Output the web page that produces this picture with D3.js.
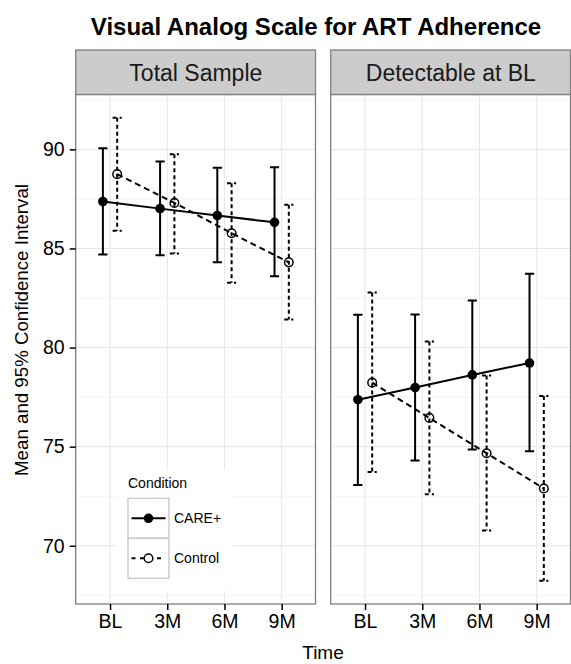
<!DOCTYPE html>
<html><head><meta charset="utf-8">
<script src="https://cdn.jsdelivr.net/npm/d3@7"></script>
<style>body{margin:0;background:#fff}svg{display:block;font-family:"Liberation Sans",Arial,Helvetica,sans-serif}</style>
</head><body><div id="chart"></div>
<script>
const times = ["BL","3M","6M","9M"];
const panels = ["Total Sample","Detectable at BL"];
const conditions = ["CARE+","Control"];
const yTicks = [70,75,80,85,90];

// Total Sample
const totalCareMean  = [87.37, 87.01, 86.66, 86.32];
const totalCareLow   = [84.69, 84.66, 84.30, 83.60];
const totalCareHigh  = [90.06, 89.39, 89.07, 89.10];
const totalCtrlMean  = [88.75, 87.30, 85.77, 84.30];
const totalCtrlLow   = [85.90, 84.74, 83.27, 81.41];
const totalCtrlHigh  = [91.60, 89.76, 88.29, 87.21];
// Detectable at BL
const detCareMean    = [77.37, 77.98, 78.62, 79.22];
const detCareLow     = [73.07, 74.30, 74.86, 74.77];
const detCareHigh    = [81.65, 81.67, 82.38, 83.72];
const detCtrlMean    = [78.23, 76.45, 74.67, 72.89];
const detCtrlLow     = [73.72, 72.60, 70.77, 68.23];
const detCtrlHigh    = [82.78, 80.31, 78.59, 77.55];

const panelData = [
  {name: panels[0], series: [
    {cond: conditions[0], mean: totalCareMean, low: totalCareLow, high: totalCareHigh},
    {cond: conditions[1], mean: totalCtrlMean, low: totalCtrlLow, high: totalCtrlHigh}]},
  {name: panels[1], series: [
    {cond: conditions[0], mean: detCareMean, low: detCareLow, high: detCareHigh},
    {cond: conditions[1], mean: detCtrlMean, low: detCtrlLow, high: detCtrlHigh}]}
];

const W = 571, H = 664;
const svg = d3.select("#chart").append("svg").attr("width", W).attr("height", H);
const FONT = '"Liberation Sans",Arial,Helvetica,sans-serif';

const panelX = [[75.7, 316], [330.7, 571]];
const stripTop = 50, panelTop = 94.5, panelBottom = 604;

const allVals = [].concat(totalCareLow,totalCareHigh,totalCtrlLow,totalCtrlHigh,detCareLow,detCareHigh,detCtrlLow,detCtrlHigh);
const lo = d3.min(allVals), hi = d3.max(allVals), pad = (hi - lo) * 0.05;
const y = d3.scaleLinear().domain([lo - pad, hi + pad]).range([panelBottom, panelTop]);
const minorTicks = d3.range(67.5, hi + pad, 2.5).filter(v => v % 5 !== 0 && v > lo - pad);

const styles = {
  "CARE+": {dash: null, ebDash: null, filled: true},
  "Control": {dash: "6,4", ebDash: "4,3", filled: false}
};

panelData.forEach((p, pi) => {
  const [x0, x1] = panelX[pi];
  const x = d3.scalePoint().domain(times).range([x0, x1]).padding(0.6);
  const dodge = x.step() * 0.125;
  const cap = x.step() * 0.08;
  const g = svg.append("g");
  g.append("rect").attr("x", x0).attr("y", panelTop).attr("width", x1 - x0).attr("height", panelBottom - panelTop).attr("fill", "#fff");
  g.selectAll(".minor").data(minorTicks).enter().append("line")
    .attr("x1", x0).attr("x2", x1).attr("y1", d => y(d)).attr("y2", d => y(d))
    .attr("stroke", "#f3f3f3").attr("stroke-width", 1);
  g.selectAll(".majy").data(yTicks).enter().append("line")
    .attr("x1", x0).attr("x2", x1).attr("y1", d => y(d)).attr("y2", d => y(d))
    .attr("stroke", "#e6e6e6").attr("stroke-width", 1);
  g.selectAll(".majx").data(times).enter().append("line")
    .attr("x1", d => x(d)).attr("x2", d => x(d)).attr("y1", panelTop).attr("y2", panelBottom)
    .attr("stroke", "#e6e6e6").attr("stroke-width", 1);

  if (pi === 0) {
    g.append("rect").attr("x", 117).attr("y", 470).attr("width", 116).attr("height", 121).attr("fill", "#fff");
  }

  p.series.forEach((s, si) => {
    const st = styles[s.cond];
    const off = si === 0 ? -dodge : dodge;
    const px = t => x(t) + off;
    times.forEach((t, i) => {
      const cx = px(t), yh = y(s.high[i]), yl = y(s.low[i]);
      const path = `M${cx-cap},${yh}L${cx+cap},${yh}M${cx},${yh}L${cx},${yl}M${cx-cap},${yl}L${cx+cap},${yl}`;
      g.append("path").attr("d", path).attr("fill", "none").attr("stroke", "#000")
        .attr("stroke-width", 2).attr("stroke-dasharray", st.ebDash);
    });
    const line = d3.line().x((d, i) => px(times[i])).y(d => y(d));
    g.append("path").datum(s.mean).attr("d", line).attr("fill", "none").attr("stroke", "#000")
      .attr("stroke-width", 2).attr("stroke-dasharray", st.dash);
  });
  p.series.forEach((s, si) => {
    const st = styles[s.cond];
    const off = si === 0 ? -dodge : dodge;
    g.selectAll(null).data(s.mean).enter().append("circle")
      .attr("cx", (d, i) => x(times[i]) + off).attr("cy", d => y(d))
      .attr("r", st.filled ? 4.8 : 4.3)
      .attr("fill", st.filled ? "#000" : "none")
      .attr("stroke", "#000").attr("stroke-width", st.filled ? 0 : 1.5);
  });

  g.append("rect").attr("x", x0).attr("y", panelTop).attr("width", x1 - x0 - 0.5).attr("height", panelBottom - panelTop)
    .attr("fill", "none").attr("stroke", "#7f7f7f").attr("stroke-width", 1.3);
  g.append("rect").attr("x", x0).attr("y", stripTop).attr("width", x1 - x0 - 0.5).attr("height", panelTop - stripTop)
    .attr("fill", "#cccccc").attr("stroke", "#7f7f7f").attr("stroke-width", 1.3);
  g.append("text").attr("x", (x0 + x1) / 2).attr("y", (stripTop + panelTop) / 2).attr("dy", "0.36em")
    .attr("text-anchor", "middle").attr("font-size", 23).attr("fill", "#1a1a1a").text(p.name);

  const xa = svg.append("g").attr("transform", `translate(0,${panelBottom})`)
    .call(d3.axisBottom(x).tickSize(6).tickSizeOuter(0).tickPadding(4));
  xa.select(".domain").remove();
  xa.selectAll(".tick line").attr("stroke", "#000").attr("stroke-width", 1.5);
  xa.selectAll(".tick text").attr("font-size", 19.5).attr("font-family", FONT).attr("fill", "#000");
});

const ya = svg.append("g").attr("transform", `translate(${panelX[0][0]},0)`)
  .call(d3.axisLeft(y).tickValues(yTicks).tickSize(6).tickPadding(5));
ya.select(".domain").remove();
ya.selectAll(".tick line").attr("stroke", "#000").attr("stroke-width", 1.5);
ya.selectAll(".tick text").attr("font-size", 19.5).attr("font-family", FONT).attr("fill", "#000");

svg.append("text").attr("x", 316).attr("y", 35).attr("text-anchor", "middle")
  .attr("font-size", 24).attr("font-weight", "bold").attr("fill", "#000")
  .text("Visual Analog Scale for ART Adherence");
svg.append("text").attr("x", 323).attr("y", 659).attr("text-anchor", "middle")
  .attr("font-size", 19).attr("fill", "#000").text("Time");
svg.append("text").attr("transform", "translate(28,330) rotate(-90)").attr("text-anchor", "middle")
  .attr("font-size", 18.7).attr("fill", "#000").text("Mean and 95% Confidence Interval");

const lg = svg.append("g");
lg.append("text").attr("x", 128).attr("y", 488).attr("font-size", 14).attr("fill", "#000").text("Condition");
conditions.forEach((c, i) => {
  const st = styles[c];
  const ky = 498.3 + i * 40;
  lg.append("rect").attr("x", 128).attr("y", ky).attr("width", 41).attr("height", 40)
    .attr("fill", "#fff").attr("stroke", "#cccccc").attr("stroke-width", 1.5);
  lg.append("line").attr("x1", 131.5).attr("x2", 165.5).attr("y1", ky + 20).attr("y2", ky + 20)
    .attr("stroke", "#000").attr("stroke-width", 2).attr("stroke-dasharray", st.dash ? "4,4.5" : null);
  lg.append("circle").attr("cx", 148.5).attr("cy", ky + 20).attr("r", st.filled ? 4.8 : 4.3)
    .attr("fill", st.filled ? "#000" : "#fff").attr("stroke", "#000").attr("stroke-width", st.filled ? 0 : 1.5);
  lg.append("text").attr("x", 174).attr("y", ky + 20).attr("dy", "0.36em").attr("font-size", 14)
    .attr("fill", "#000").text(c);
});
</script></body></html>
